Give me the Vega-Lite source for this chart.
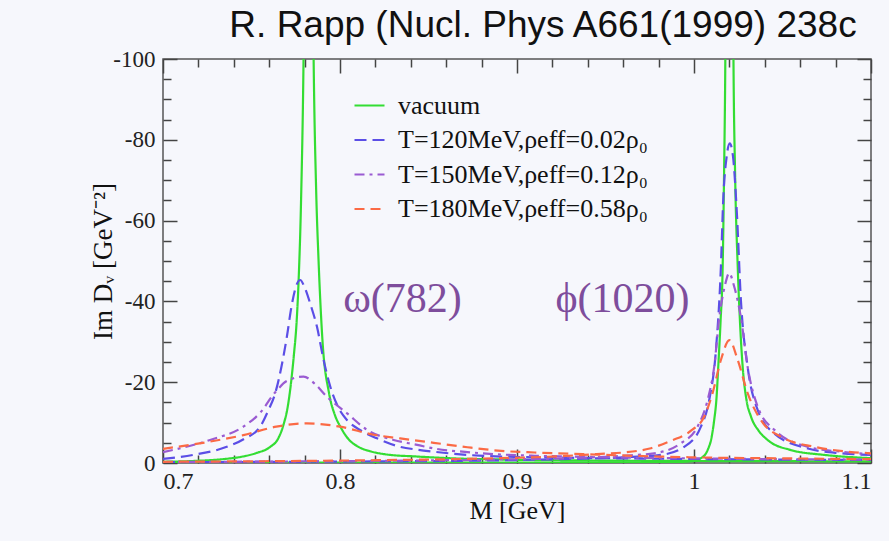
{
  "$schema": "https://vega.github.io/schema/vega-lite/v6.json",
  "width": 708,
  "height": 404,
  "autosize": {"type": "none"},
  "padding": {"left": 163, "top": 59, "right": 18, "bottom": 78},
  "background": "#f6f7fc",
  "title": {"text": "R. Rapp (Nucl. Phys A661(1999) 238c", "font": "Liberation Sans", "fontSize": 37, "fontWeight": "normal", "color": "#111111", "anchor": "middle", "dx": 26, "dy": 43, "offset": 17, "baseline": "alphabetic"},
  "config": {
    "view": {"stroke": "#555555", "strokeWidth": 1.5, "fill": "#f6f7fc"},
    "axis": {"grid": false, "domain": false, "tickColor": "#444444", "tickWidth": 1.5, "labelFont": "Liberation Serif", "labelColor": "#222222", "titleFont": "Liberation Serif", "titleColor": "#111111", "titleFontWeight": "normal"}
  },
  "datasets": {
    "curves": [
      {"s":"vac","m":"w","M":0.700,"v":-0.3},{"s":"vac","m":"w","M":0.717,"v":-0.5},{"s":"vac","m":"w","M":0.735,"v":-1.0},{"s":"vac","m":"w","M":0.745,"v":-1.6},{"s":"vac","m":"w","M":0.753,"v":-2.5},{"s":"vac","m":"w","M":0.7606,"v":-4.0},{"s":"vac","m":"w","M":0.765,"v":-6.0},{"s":"vac","m":"w","M":0.7681,"v":-9.5},{"s":"vac","m":"w","M":0.7705,"v":-14},{"s":"vac","m":"w","M":0.7725,"v":-20.5},{"s":"vac","m":"w","M":0.774,"v":-27},{"s":"vac","m":"w","M":0.7755,"v":-35},{"s":"vac","m":"w","M":0.7766,"v":-45},{"s":"vac","m":"w","M":0.778,"v":-65},{"s":"vac","m":"w","M":0.7794,"v":-100},{"s":"vac","m":"w","M":0.7808,"v":-170},{"s":"vac","m":"w","M":0.7822,"v":-250},{"s":"vac","m":"w","M":0.7837,"v":-170},{"s":"vac","m":"w","M":0.7851,"v":-100},{"s":"vac","m":"w","M":0.7865,"v":-68},{"s":"vac","m":"w","M":0.7879,"v":-50},{"s":"vac","m":"w","M":0.790,"v":-31},{"s":"vac","m":"w","M":0.7938,"v":-17.3},{"s":"vac","m":"w","M":0.797,"v":-12},{"s":"vac","m":"w","M":0.8002,"v":-9},{"s":"vac","m":"w","M":0.805,"v":-5.8},{"s":"vac","m":"w","M":0.8096,"v":-4.2},{"s":"vac","m":"w","M":0.818,"v":-2.8},{"s":"vac","m":"w","M":0.8266,"v":-2.1},{"s":"vac","m":"w","M":0.8436,"v":-1.6},{"s":"vac","m":"w","M":0.861,"v":-1.2},{"s":"vac","m":"w","M":0.90,"v":-0.8},{"s":"vac","m":"w","M":0.95,"v":-0.6},{"s":"vac","m":"w","M":1.00,"v":-0.5},{"s":"vac","m":"w","M":1.05,"v":-0.45},{"s":"vac","m":"w","M":1.10,"v":-0.4},
      {"s":"vac","m":"p","M":0.70,"v":-0.05},{"s":"vac","m":"p","M":0.85,"v":-0.1},{"s":"vac","m":"p","M":0.95,"v":-0.15},{"s":"vac","m":"p","M":0.99,"v":-0.25},{"s":"vac","m":"p","M":0.9982,"v":-0.4},{"s":"vac","m":"p","M":1.0039,"v":-1.2},{"s":"vac","m":"p","M":1.0077,"v":-3.2},{"s":"vac","m":"p","M":1.0100,"v":-6.5},{"s":"vac","m":"p","M":1.0114,"v":-10.6},{"s":"vac","m":"p","M":1.0127,"v":-16},{"s":"vac","m":"p","M":1.0137,"v":-23.8},{"s":"vac","m":"p","M":1.015,"v":-35},{"s":"vac","m":"p","M":1.0162,"v":-48.6},{"s":"vac","m":"p","M":1.0170,"v":-72},{"s":"vac","m":"p","M":1.0177,"v":-100},{"s":"vac","m":"p","M":1.0200,"v":-400},{"s":"vac","m":"p","M":1.0223,"v":-100},{"s":"vac","m":"p","M":1.0232,"v":-72},{"s":"vac","m":"p","M":1.0247,"v":-48.6},{"s":"vac","m":"p","M":1.0262,"v":-33},{"s":"vac","m":"p","M":1.0275,"v":-23.8},{"s":"vac","m":"p","M":1.0295,"v":-16},{"s":"vac","m":"p","M":1.0322,"v":-11.5},{"s":"vac","m":"p","M":1.0365,"v":-8},{"s":"vac","m":"p","M":1.0416,"v":-5.7},{"s":"vac","m":"p","M":1.0548,"v":-3.2},{"s":"vac","m":"p","M":1.0737,"v":-2.0},{"s":"vac","m":"p","M":1.10,"v":-1.2},
      {"s":"T120","m":"w","M":0.700,"v":-1.0},{"s":"T120","m":"w","M":0.717,"v":-2.0},{"s":"T120","m":"w","M":0.736,"v":-4.0},{"s":"T120","m":"w","M":0.746,"v":-6.0},{"s":"T120","m":"w","M":0.7549,"v":-9.0},{"s":"T120","m":"w","M":0.7595,"v":-13},{"s":"T120","m":"w","M":0.7634,"v":-17.3},{"s":"T120","m":"w","M":0.767,"v":-24},{"s":"T120","m":"w","M":0.770,"v":-31.3},{"s":"T120","m":"w","M":0.7725,"v":-38.5},{"s":"T120","m":"w","M":0.775,"v":-43.5},{"s":"T120","m":"w","M":0.7775,"v":-45.3},{"s":"T120","m":"w","M":0.780,"v":-43.5},{"s":"T120","m":"w","M":0.7835,"v":-39},{"s":"T120","m":"w","M":0.787,"v":-33.7},{"s":"T120","m":"w","M":0.7905,"v":-26},{"s":"T120","m":"w","M":0.7945,"v":-18.9},{"s":"T120","m":"w","M":0.799,"v":-13.8},{"s":"T120","m":"w","M":0.804,"v":-10.6},{"s":"T120","m":"w","M":0.812,"v":-8},{"s":"T120","m":"w","M":0.8209,"v":-6.1},{"s":"T120","m":"w","M":0.834,"v":-4.0},{"s":"T120","m":"w","M":0.8436,"v":-3.3},{"s":"T120","m":"w","M":0.853,"v":-2.8},{"s":"T120","m":"w","M":0.872,"v":-2.0},{"s":"T120","m":"w","M":0.891,"v":-1.6},{"s":"T120","m":"w","M":0.93,"v":-1.3},{"s":"T120","m":"w","M":0.97,"v":-1.1},{"s":"T120","m":"w","M":1.0,"v":-1.0},{"s":"T120","m":"w","M":1.05,"v":-0.85},{"s":"T120","m":"w","M":1.10,"v":-0.75},
      {"s":"T120","m":"p","M":0.70,"v":-0.2},{"s":"T120","m":"p","M":0.80,"v":-0.35},{"s":"T120","m":"p","M":0.88,"v":-0.6},{"s":"T120","m":"p","M":0.93,"v":-1.0},{"s":"T120","m":"p","M":0.96,"v":-1.4},{"s":"T120","m":"p","M":0.9813,"v":-2.0},{"s":"T120","m":"p","M":0.9945,"v":-4.0},{"s":"T120","m":"p","M":1.0039,"v":-9.0},{"s":"T120","m":"p","M":1.0086,"v":-15.6},{"s":"T120","m":"p","M":1.0124,"v":-28},{"s":"T120","m":"p","M":1.0152,"v":-48.6},{"s":"T120","m":"p","M":1.0165,"v":-65},{"s":"T120","m":"p","M":1.0185,"v":-76},{"s":"T120","m":"p","M":1.0202,"v":-79.1},{"s":"T120","m":"p","M":1.022,"v":-76},{"s":"T120","m":"p","M":1.0242,"v":-62},{"s":"T120","m":"p","M":1.0265,"v":-40.3},{"s":"T120","m":"p","M":1.0303,"v":-23.8},{"s":"T120","m":"p","M":1.036,"v":-13.1},{"s":"T120","m":"p","M":1.0454,"v":-7.3},{"s":"T120","m":"p","M":1.0643,"v":-3.6},{"s":"T120","m":"p","M":1.0831,"v":-2.4},{"s":"T120","m":"p","M":1.10,"v":-2.0},
      {"s":"T150","m":"w","M":0.700,"v":-2.7},{"s":"T150","m":"w","M":0.7266,"v":-5.7},{"s":"T150","m":"w","M":0.7454,"v":-9.0},{"s":"T150","m":"w","M":0.755,"v":-12.5},{"s":"T150","m":"w","M":0.7634,"v":-17.5},{"s":"T150","m":"w","M":0.770,"v":-20.3},{"s":"T150","m":"w","M":0.7794,"v":-21.4},{"s":"T150","m":"w","M":0.786,"v":-19.5},{"s":"T150","m":"w","M":0.7926,"v":-16.4},{"s":"T150","m":"w","M":0.804,"v":-12.3},{"s":"T150","m":"w","M":0.8153,"v":-8.2},{"s":"T150","m":"w","M":0.8303,"v":-5.7},{"s":"T150","m":"w","M":0.8436,"v":-4.5},{"s":"T150","m":"w","M":0.853,"v":-3.6},{"s":"T150","m":"w","M":0.872,"v":-2.7},{"s":"T150","m":"w","M":0.891,"v":-2.1},{"s":"T150","m":"w","M":0.91,"v":-1.8},{"s":"T150","m":"w","M":0.93,"v":-1.6},{"s":"T150","m":"w","M":0.96,"v":-1.35},{"s":"T150","m":"w","M":1.0,"v":-1.15},{"s":"T150","m":"w","M":1.05,"v":-0.95},{"s":"T150","m":"w","M":1.10,"v":-0.85},
      {"s":"T150","m":"p","M":0.70,"v":-0.25},{"s":"T150","m":"p","M":0.80,"v":-0.45},{"s":"T150","m":"p","M":0.88,"v":-0.8},{"s":"T150","m":"p","M":0.93,"v":-1.2},{"s":"T150","m":"p","M":0.96,"v":-1.8},{"s":"T150","m":"p","M":0.9775,"v":-2.4},{"s":"T150","m":"p","M":0.9926,"v":-4.9},{"s":"T150","m":"p","M":1.002,"v":-9.0},{"s":"T150","m":"p","M":1.0077,"v":-15.6},{"s":"T150","m":"p","M":1.0114,"v":-23.8},{"s":"T150","m":"p","M":1.0143,"v":-36},{"s":"T150","m":"p","M":1.0175,"v":-44},{"s":"T150","m":"p","M":1.0199,"v":-47},{"s":"T150","m":"p","M":1.0225,"v":-44},{"s":"T150","m":"p","M":1.0265,"v":-36},{"s":"T150","m":"p","M":1.0303,"v":-23.8},{"s":"T150","m":"p","M":1.036,"v":-13.9},{"s":"T150","m":"p","M":1.0454,"v":-8.2},{"s":"T150","m":"p","M":1.0643,"v":-4.0},{"s":"T150","m":"p","M":1.0831,"v":-2.8},{"s":"T150","m":"p","M":1.10,"v":-2.2},
      {"s":"T180","m":"w","M":0.700,"v":-3.5},{"s":"T180","m":"w","M":0.7266,"v":-5.3},{"s":"T180","m":"w","M":0.7454,"v":-6.9},{"s":"T180","m":"w","M":0.764,"v":-9.0},{"s":"T180","m":"w","M":0.7813,"v":-9.8},{"s":"T180","m":"w","M":0.800,"v":-9.0},{"s":"T180","m":"w","M":0.819,"v":-7.0},{"s":"T180","m":"w","M":0.834,"v":-6.1},{"s":"T180","m":"w","M":0.853,"v":-5.0},{"s":"T180","m":"w","M":0.872,"v":-3.9},{"s":"T180","m":"w","M":0.891,"v":-3.0},{"s":"T180","m":"w","M":0.91,"v":-2.6},{"s":"T180","m":"w","M":0.93,"v":-2.3},{"s":"T180","m":"w","M":0.95,"v":-2.0},{"s":"T180","m":"w","M":0.98,"v":-1.6},{"s":"T180","m":"w","M":1.0,"v":-1.4},{"s":"T180","m":"w","M":1.05,"v":-1.15},{"s":"T180","m":"w","M":1.10,"v":-0.95},
      {"s":"T180","m":"p","M":0.70,"v":-0.3},{"s":"T180","m":"p","M":0.80,"v":-0.6},{"s":"T180","m":"p","M":0.88,"v":-1.1},{"s":"T180","m":"p","M":0.92,"v":-1.6},{"s":"T180","m":"p","M":0.945,"v":-2.2},{"s":"T180","m":"p","M":0.96,"v":-2.6},{"s":"T180","m":"p","M":0.975,"v":-3.6},{"s":"T180","m":"p","M":0.987,"v":-5.5},{"s":"T180","m":"p","M":0.9983,"v":-8},{"s":"T180","m":"p","M":1.0058,"v":-11.5},{"s":"T180","m":"p","M":1.0105,"v":-17.3},{"s":"T180","m":"p","M":1.0152,"v":-25.5},{"s":"T180","m":"p","M":1.0200,"v":-30.4},{"s":"T180","m":"p","M":1.0247,"v":-25.5},{"s":"T180","m":"p","M":1.0303,"v":-17.3},{"s":"T180","m":"p","M":1.0378,"v":-10.6},{"s":"T180","m":"p","M":1.049,"v":-6.5},{"s":"T180","m":"p","M":1.068,"v":-4.0},{"s":"T180","m":"p","M":1.0869,"v":-2.8},{"s":"T180","m":"p","M":1.10,"v":-2.4}
    ],
    "notes": [
      {"M": 0.8353, "v": -40.6, "label": "ω(782)"},
      {"M": 0.9596, "v": -40.6, "label": "ϕ(1020)"}
    ]
  },
  "resolve": {"axis": {"x": "independent", "y": "independent"}},
  "layer": [
    {
      "data": {"name": "curves"},
      "mark": {"type": "line", "strokeWidth": 2.2, "clip": true, "interpolate": "monotone"},
      "encoding": {
        "x": {"field": "M", "type": "quantitative", "scale": {"domain": [0.7, 1.1], "nice": false, "zero": false},
          "axis": {"orient": "bottom", "values": [0.7, 0.8, 0.9, 1, 1.1], "tickSize": -14, "labelFontSize": 24, "labelPadding": 20, "labelExpr": "'' + datum.value", "title": "M [GeV]", "titleFontSize": 26, "titlePadding": 4}},
        "y": {"field": "v", "type": "quantitative", "scale": {"domain": [0, -100], "nice": false, "zero": false},
          "axis": {"orient": "left", "values": [0, -20, -40, -60, -80, -100], "tickSize": -14, "labelFontSize": 23, "labelPadding": 22, "labelExpr": "'' + datum.value", "title": "Im Dᵥ [GeV⁻²]", "titleFontSize": 27, "titleX": -52, "titleY": 202, "titleAngle": 270, "titleBaseline": "alphabetic", "titleAlign": "center"}},
        "color": {"field": "s", "type": "nominal",
          "scale": {"domain": ["vac", "T120", "T150", "T180"], "range": ["#33dd33", "#5b4ee6", "#9a5bd2", "#fb6a45"]},
          "legend": {"orient": "none", "legendX": 190, "legendY": 30, "title": null, "padding": 0, "labelFont": "Liberation Serif", "labelFontSize": 26, "labelColor": "#111111", "labelLimit": 500, "symbolType": "stroke", "symbolSize": 900, "symbolStrokeWidth": 2.2, "rowPadding": 4.5, "labelOffset": 12,
            "labelExpr": "datum.label == 'vac' ? 'vacuum' : datum.label == 'T120' ? 'T=120MeV,ρeff=0.02ρ₀' : datum.label == 'T150' ? 'T=150MeV,ρeff=0.12ρ₀' : 'T=180MeV,ρeff=0.58ρ₀'"}},
        "strokeDash": {"field": "s", "type": "nominal",
          "scale": {"domain": ["vac", "T120", "T150", "T180"], "range": [[1, 0], [12, 6], [10, 5, 3, 5], [10, 6]]}},
        "detail": {"field": "m"}
      }
    },
    {
      "data": {"name": "notes"},
      "mark": {"type": "text", "font": "Liberation Serif", "fontSize": 42, "color": "#7e4d9c", "align": "center", "baseline": "middle"},
      "encoding": {
        "x": {"field": "M", "type": "quantitative", "scale": {"domain": [0.7, 1.1], "nice": false, "zero": false},
          "axis": {"orient": "bottom", "values": [0.72,0.74,0.76,0.78,0.82,0.84,0.86,0.88,0.92,0.94,0.96,0.98,1.02,1.04,1.06,1.08], "tickSize": -8, "labels": false, "title": null}},
        "y": {"field": "v", "type": "quantitative", "scale": {"domain": [0, -100], "nice": false, "zero": false},
          "axis": {"orient": "left", "values": [-5,-10,-15,-25,-30,-35,-45,-50,-55,-65,-70,-75,-85,-90,-95], "tickSize": -8, "labels": false, "title": null}},
        "text": {"field": "label"}
      }
    },
    {
      "data": {"name": "notes"},
      "mark": {"type": "point", "opacity": 0},
      "encoding": {
        "x": {"field": "M", "type": "quantitative", "scale": {"domain": [0.7, 1.1], "nice": false, "zero": false},
          "axis": {"orient": "top", "values": [0.7, 0.8, 0.9, 1, 1.1], "tickSize": -14, "labels": false, "title": null}},
        "y": {"field": "v", "type": "quantitative", "scale": {"domain": [0, -100], "nice": false, "zero": false},
          "axis": {"orient": "right", "values": [0, -20, -40, -60, -80, -100], "tickSize": -14, "labels": false, "title": null}}
      }
    },
    {
      "data": {"name": "notes"},
      "mark": {"type": "point", "opacity": 0},
      "encoding": {
        "x": {"field": "M", "type": "quantitative", "scale": {"domain": [0.7, 1.1], "nice": false, "zero": false},
          "axis": {"orient": "top", "values": [0.72,0.74,0.76,0.78,0.82,0.84,0.86,0.88,0.92,0.94,0.96,0.98,1.02,1.04,1.06,1.08], "tickSize": -8, "labels": false, "title": null}},
        "y": {"field": "v", "type": "quantitative", "scale": {"domain": [0, -100], "nice": false, "zero": false},
          "axis": {"orient": "right", "values": [-5,-10,-15,-25,-30,-35,-45,-50,-55,-65,-70,-75,-85,-90,-95], "tickSize": -8, "labels": false, "title": null}}
      }
    }
  ]
}
